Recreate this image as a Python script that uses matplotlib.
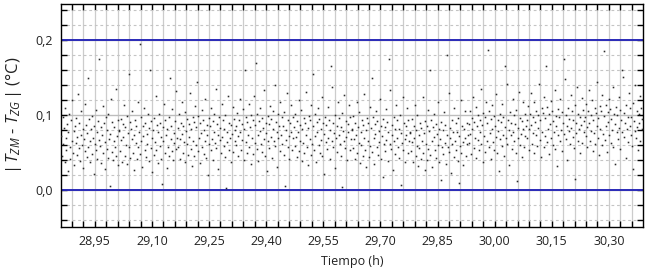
import numpy as np
import matplotlib
matplotlib.use("Agg")
import matplotlib.pyplot as plt
from matplotlib.ticker import MultipleLocator, FuncFormatter

# |T_ZM - T_ZG| readings in mK, one list per time block (in time order)
block_0 = [72, 45, 98, 61, 83, 37, 110, 54, 69, 88, 25, 77, 102, 58, 41, 93, 66, 120, 50, 79,
           34, 85, 63, 96, 47, 71, 128, 56, 90, 39, 74, 105, 60, 82, 30, 68, 115, 52, 87, 44,
           76, 150, 57, 95, 65, 38, 81, 99, 48, 70, 22, 86, 62, 107, 53, 78, 42, 92, 67, 175,
           59, 84, 36, 73, 112, 49, 89, 64, 28, 97, 55, 80, 43, 101, 68, 5, 75, 122, 51, 91,
           40, 66, 84, 57, 135, 46, 72, 94, 33, 79]
block_1 = [80, 52, 95, 67, 38, 88, 71, 113, 46, 84, 60, 99, 35, 76, 155, 58, 91, 43, 82, 68,
           105, 50, 74, 27, 93, 63, 86, 41, 118, 57, 78, 195, 48, 97, 66, 31, 85, 72, 109, 54,
           89, 44, 75, 62, 101, 39, 83, 160, 56, 92, 69, 24, 80, 47, 96, 64, 125, 53, 87, 36,
           77, 102, 59, 90, 42, 71, 8, 84, 65, 115, 49, 94, 73, 30, 81, 58, 98, 45, 150, 68,
           86, 52, 108, 40, 76, 63, 92, 55, 132, 70]
block_2 = [83, 57, 101, 68, 42, 90, 75, 118, 50, 86, 64, 104, 37, 79, 62, 95, 47, 88, 71, 130,
           55, 81, 32, 97, 66, 91, 45, 112, 60, 84, 144, 52, 99, 70, 36, 89, 76, 107, 58, 93,
           48, 80, 65, 121, 43, 87, 73, 20, 96, 61, 85, 53, 109, 68, 92, 40, 78, 102, 63, 135,
           56, 88, 74, 28, 98, 67, 83, 49, 115, 71, 94, 59, 82, 44, 100, 3, 77, 64, 126, 54,
           90, 69, 38, 87, 75, 111, 51, 95, 66, 80]
block_3 = [85, 60, 103, 72, 45, 93, 78, 121, 53, 88, 67, 108, 40, 82, 160, 64, 97, 50, 91, 74,
           115, 58, 84, 35, 100, 69, 94, 48, 126, 63, 87, 170, 55, 102, 73, 39, 92, 79, 110, 61,
           96, 51, 83, 68, 133, 46, 90, 76, 25, 99, 65, 88, 56, 112, 71, 95, 43, 81, 105, 66,
           140, 59, 91, 77, 31, 101, 70, 86, 52, 118, 74, 97, 62, 85, 47, 104, 6, 80, 67, 129,
           57, 93, 72, 41, 89, 78, 114, 54, 98, 69]
block_4 = [84, 59, 102, 71, 44, 92, 77, 120, 52, 87, 66, 107, 39, 81, 63, 96, 49, 90, 73, 131,
           57, 83, 34, 99, 68, 93, 47, 114, 62, 86, 155, 54, 101, 72, 38, 91, 78, 109, 60, 95,
           50, 82, 67, 124, 45, 89, 75, 22, 98, 64, 87, 55, 111, 70, 94, 42, 80, 165, 65, 138,
           58, 90, 76, 30, 100, 69, 85, 51, 117, 73, 96, 61, 84, 46, 103, 4, 79, 66, 127, 56,
           92, 71, 40, 88, 77, 113, 53, 97, 68, 81]
block_5 = [80, 56, 99, 68, 41, 89, 74, 117, 49, 84, 63, 104, 36, 78, 60, 93, 46, 87, 70, 128,
           54, 80, 31, 96, 65, 90, 44, 111, 59, 83, 150, 51, 98, 69, 35, 88, 75, 106, 57, 92,
           47, 79, 64, 121, 42, 86, 72, 18, 95, 61, 84, 52, 108, 67, 91, 39, 77, 175, 62, 134,
           55, 87, 73, 27, 97, 66, 82, 48, 114, 70, 93, 58, 81, 43, 100, 7, 76, 63, 124, 53,
           89, 68, 37, 85, 74, 110, 50, 94, 65, 78]
block_6 = [76, 52, 95, 64, 37, 85, 70, 113, 45, 80, 59, 100, 32, 74, 56, 89, 42, 83, 66, 124,
           50, 76, 27, 92, 61, 86, 40, 107, 55, 79, 160, 47, 94, 65, 31, 84, 71, 102, 53, 88,
           43, 75, 60, 117, 38, 82, 68, 14, 91, 57, 80, 48, 104, 63, 87, 35, 73, 180, 58, 130,
           51, 83, 69, 23, 93, 62, 78, 44, 110, 66, 89, 54, 77, 39, 96, 10, 72, 59, 120, 49,
           85, 64, 33, 81, 70, 106, 46, 90, 61, 74]
block_7 = [88, 63, 106, 75, 48, 96, 81, 124, 56, 91, 70, 111, 43, 85, 67, 100, 53, 94, 77, 135,
           61, 87, 38, 103, 72, 97, 51, 118, 66, 90, 187, 58, 105, 76, 42, 95, 82, 113, 64, 99,
           54, 86, 71, 128, 49, 93, 79, 26, 102, 68, 91, 59, 115, 74, 98, 46, 84, 165, 69, 142,
           62, 94, 80, 34, 104, 73, 89, 55, 121, 77, 100, 65, 88, 50, 107, 12, 83, 70, 131, 60,
           96, 75, 44, 92, 81, 117, 57, 101, 72, 86]
block_8 = [94, 69, 112, 81, 54, 102, 87, 130, 62, 97, 76, 117, 49, 91, 73, 106, 59, 100, 83, 141,
           67, 93, 44, 109, 78, 103, 57, 124, 72, 96, 165, 64, 111, 82, 48, 101, 88, 119, 70, 105,
           60, 92, 77, 134, 55, 99, 85, 32, 108, 74, 97, 65, 121, 80, 104, 52, 90, 175, 75, 148,
           68, 100, 86, 40, 110, 79, 95, 61, 127, 83, 106, 71, 94, 56, 113, 15, 89, 76, 137, 66,
           102, 81, 50, 98, 87, 123, 63, 107, 78, 92]
block_9 = [97, 72, 115, 84, 57, 105, 90, 133, 65, 100, 79, 120, 52, 94, 76, 109, 62, 103, 86, 144,
           70, 96, 47, 112, 81, 106, 60, 127, 75, 99, 185, 67, 114, 85, 51, 104, 91, 122, 73, 108,
           63, 95, 80, 137, 58, 102, 88, 35, 111, 77, 100, 68, 124, 83, 107, 55, 93, 160, 78, 151,
           71, 103, 89, 43, 113, 82, 98, 64, 130, 86, 109, 74, 97, 59, 116, 28, 92, 79, 140, 69,
           105, 84, 53, 101, 90, 126, 66, 110, 81, 95]

t_start, t_end = 28.862, 30.388   # h, first and last sample
limits = [0.0, 0.2]               # °C, tolerance band
x_ticks = [28.95, 29.10, 29.25, 29.40, 29.55, 29.70, 29.85, 30.00, 30.15, 30.30]

blocks = [block_0, block_1, block_2, block_3, block_4,
          block_5, block_6, block_7, block_8, block_9]
delta = np.concatenate(blocks) / 1000.0
t = np.linspace(t_start, t_end, len(delta))

plt.rcParams["font.family"] = ["Open Sans", "DejaVu Sans"]
plt.rcParams["mathtext.fontset"] = "custom"
plt.rcParams["mathtext.it"] = "Open Sans:italic"
plt.rcParams["mathtext.rm"] = "Open Sans"

fig = plt.figure(figsize=(6.48, 2.77), dpi=100)
ax = fig.add_axes([0.094, 0.1805, 0.898, 0.805])

ax.set_xlim(28.861, 30.389)
ax.set_ylim(-0.049, 0.248)

# grid
ax.xaxis.set_major_locator(plt.FixedLocator(x_ticks))
ax.xaxis.set_minor_locator(MultipleLocator(0.03))
ax.yaxis.set_major_locator(MultipleLocator(0.1))
ax.yaxis.set_minor_locator(MultipleLocator(0.02))
ax.grid(True, which="both", axis="x", color="#cccccc", lw=0.9, ls="-")
ax.grid(True, which="minor", axis="y", color="#c4c4c4", lw=0.8, ls=(0, (2.5, 2.5)))
ax.grid(True, which="major", axis="y", color="#bdbdbd", lw=1.0, ls="-")
ax.set_axisbelow(True)

for y in limits:
    ax.axhline(y, color="#2a2ab8", lw=1.4, zorder=2)

ax.plot(t, delta, "s", ms=1.15, color="#2b2b2b", mec="none", zorder=3)

fmt = FuncFormatter(lambda v, _: f"{v:.2f}".replace(".", ","))
ax.xaxis.set_major_formatter(fmt)
ax.yaxis.set_major_formatter(FuncFormatter(lambda v, _: f"{v:.1f}".replace(".", ",")))

ax.tick_params(which="both", direction="in", top=True, right=True, color="black",
               labelsize=9, labelcolor="#222222")
ax.tick_params(which="major", length=4, width=1, pad=6)
ax.tick_params(which="minor", length=4, width=1)
for s in ax.spines.values():
    s.set_linewidth(1.0)

ax.set_xlabel("Tiempo (h)", fontsize=9, color="#222222", labelpad=5)
ax.set_ylabel(r"$|\,T_{ZM}$ - $T_{ZG}\,|$ (°C)", fontsize=12, color="#222222", labelpad=8)

fig.savefig("out.png", dpi=100)
